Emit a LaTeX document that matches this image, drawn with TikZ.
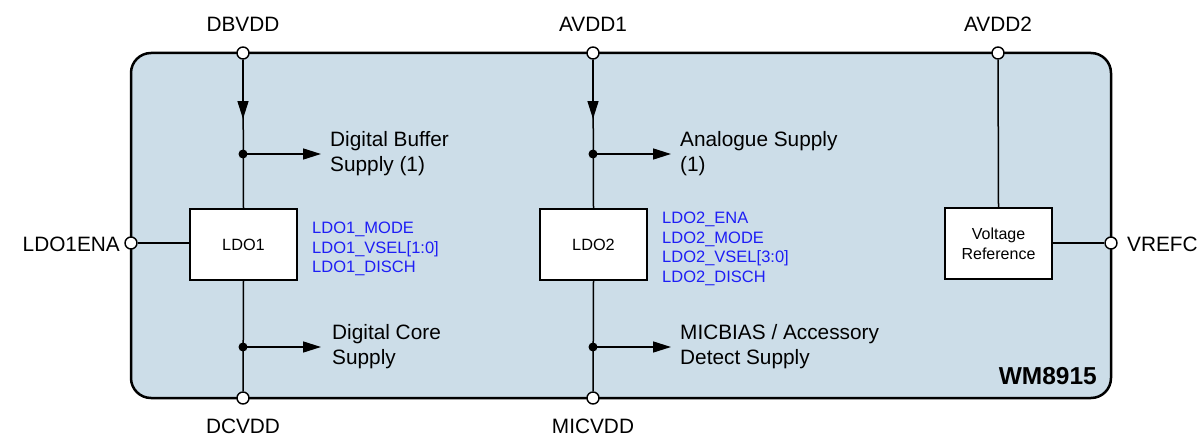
\documentclass[tikz,border=0pt]{standalone}
\usepackage{fontspec}
\setmainfont{Liberation Sans}
\usetikzlibrary{arrows.meta}
\definecolor{chipfill}{RGB}{204,221,232}
\definecolor{regblue}{RGB}{30,30,245}
\begin{document}
\begin{tikzpicture}[x=1pt,y=-1pt,
  pin/.style={circle,draw,fill=white,line width=1.4pt,inner sep=0pt,minimum size=12pt},
  dot/.style={circle,fill=black,inner sep=0pt,minimum size=9pt},
  blk/.style={draw,fill=white,line width=1.4pt,minimum width=107pt,minimum height=71pt,align=center,inner sep=0pt},
  wire/.style={line width=1.5pt},
  arr/.style={line width=1.5pt,-{Triangle[length=18pt,width=11pt]}},
  lbl/.style={font=\fontsize{20.8}{25}\selectfont,inner sep=0pt},
  sig/.style={font=\fontsize{16.5}{19.5}\selectfont,text=regblue,align=left,anchor=west,inner sep=0pt},
  txt/.style={font=\fontsize{20.8}{25}\selectfont,align=left,anchor=west,inner sep=0pt}]
\useasboundingbox (0,0) rectangle (1202,436);
% chip outline
\draw[line width=2.5pt,fill=chipfill,rounded corners=20pt] (131,53) rectangle (1111,398);
\node[font=\fontsize{24.5}{28}\selectfont\bfseries,anchor=east,inner sep=0pt] (chip) at (1097,376) {WM8915};
% blocks
\node[blk,font=\fontsize{16.3}{19}\selectfont] (ldo1) at (243.5,244.5) {LDO1};
\node[blk,font=\fontsize{16.3}{19}\selectfont] (ldo2) at (593.5,244.5) {LDO2};
\node[blk,font=\fontsize{16}{20}\selectfont] (vref) at (998.5,243.5) {Voltage\\Reference};
% junctions / coordinates
\coordinate (a1) at (243,119);
\coordinate (a2) at (593,119);
\coordinate (t1t) at (321,154);
\coordinate (t1b) at (321,347);
\coordinate (t2t) at (671,154);
\coordinate (t2b) at (671,347);
% pins
\node[pin] (dbvdd) at (243,53) {};
\node[pin] (avdd1) at (593,53) {};
\node[pin] (avdd2) at (998,53) {};
\node[pin] (dcvdd) at (243,398) {};
\node[pin] (micvdd) at (593,398) {};
\node[pin] (ldo1ena) at (131,243) {};
\node[pin] (vrefc) at (1111,243) {};
% arrows
\draw[arr] (dbvdd) -- (a1);
\draw[arr] (avdd1) -- (a2);
\draw[arr] (243,154) -- (t1t);
\draw[arr] (243,347) -- (t1b);
\draw[arr] (593,154) -- (t2t);
\draw[arr] (593,347) -- (t2b);
% wires
\draw[wire] (dbvdd) -- (ldo1.north);
\draw[wire] (avdd1) -- (ldo2.north);
\draw[wire] (ldo1.south) -- (dcvdd);
\draw[wire] (ldo2.south) -- (micvdd);
\draw[wire] (avdd2) -- (vref.north);
\draw[wire] (ldo1ena) -- (ldo1.west |- ldo1ena);
\draw[wire] (vref.east |- vrefc) -- (vrefc);
\node[dot] (j1t) at (243,154) {};
\node[dot] (j1b) at (243,347) {};
\node[dot] (j2t) at (593,154) {};
\node[dot] (j2b) at (593,347) {};
% pin labels
\node[lbl] (lDBVDD) at (243,24) {DBVDD};
\node[lbl] (lAVDD1) at (593,24) {AVDD1};
\node[lbl] (lAVDD2) at (998,24) {AVDD2};
\node[lbl] (lDCVDD) at (243,426) {DCVDD};
\node[lbl] (lMICVDD) at (593,426) {MICVDD};
\node[lbl,anchor=east] (lLDO1ENA) at (120,244) {LDO1ENA};
\node[lbl,anchor=west] (lVREFC) at (1127,244) {VREFC};
% supply texts
\node[txt] (s1) at (330,154) {Digital Buffer\\Supply (1)};
\node[txt] (s2) at (332,347) {Digital Core\\Supply};
\node[txt] (s3) at (680,154) {Analogue Supply\\(1)};
\node[txt] (s4) at (680,347) {MICBIAS / Accessory\\Detect Supply};
% register texts
\node[sig] (r1) at (312,249) {LDO1\_MODE\\LDO1\_VSEL[1:0]\\LDO1\_DISCH};
\node[sig] (r2) at (662,249) {LDO2\_ENA\\LDO2\_MODE\\LDO2\_VSEL[3:0]\\LDO2\_DISCH};
\end{tikzpicture}
\end{document}
